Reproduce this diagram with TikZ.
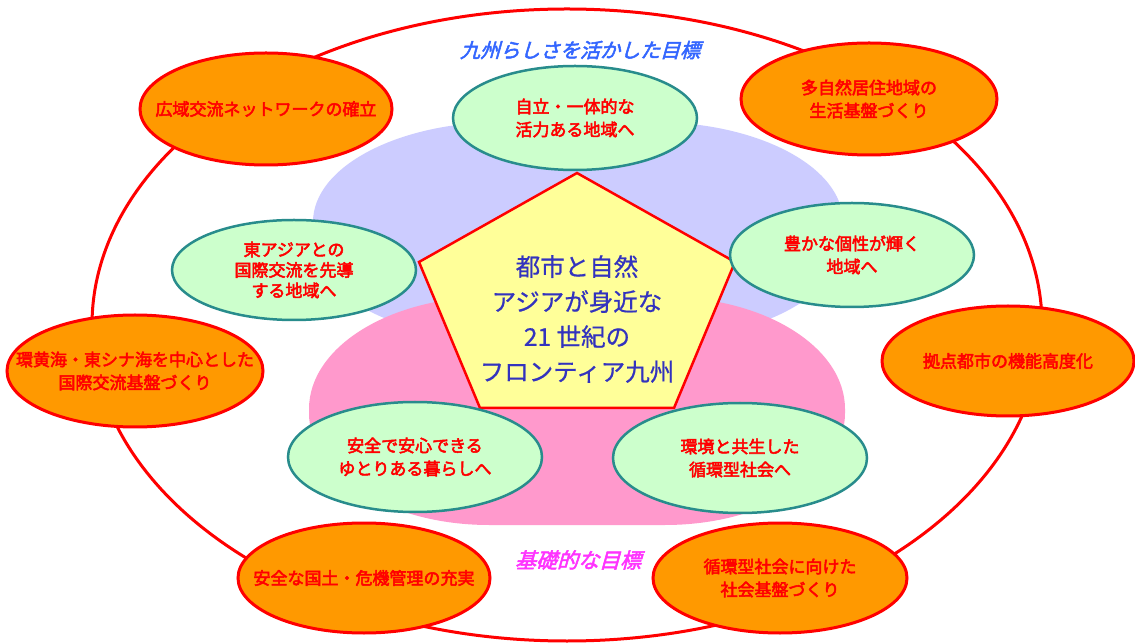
\documentclass[tikz,border=0pt]{standalone}
\usepackage{fontspec}
\usetikzlibrary{shapes.geometric}
\newfontfamily\jp[FakeBold=0.6]{Noto Sans CJK JP}
\newfontfamily\jpb[FakeBold=3]{Noto Sans CJK JP}
\newfontfamily\jpi[FakeBold=2.5,FakeSlant=0.28]{Noto Sans CJK JP}
\definecolor{orangefill}{HTML}{FF9900}
\definecolor{greenfill}{HTML}{CCFFCC}
\definecolor{tealline}{RGB}{40,140,140}
\definecolor{lavfill}{HTML}{CCCCFF}
\definecolor{pinkfill}{HTML}{FF99CC}
\definecolor{pentfill}{HTML}{FFFF99}
\definecolor{centertext}{RGB}{51,51,190}
\definecolor{titleblue}{HTML}{3366FF}
\definecolor{titlemag}{HTML}{FF33FF}
\begin{document}
\begin{tikzpicture}[x=1pt,y=1pt,
  orangebox/.style={ellipse, draw=red, line width=3pt, fill=orangefill, inner sep=0pt},
  greenbox/.style={ellipse, draw=tealline, line width=2.5pt, fill=greenfill, inner sep=0pt},
  redtext/.style={text=red, align=center, inner sep=0pt, font=\jpb\fontsize{17}{23}\selectfont},
  centretext/.style={text=centertext, align=center, inner sep=0pt, font=\jp\fontsize{24.5}{35}\selectfont},
  headtext/.style={inner sep=0pt, font=\jpi\fontsize{20}{24}\selectfont}]
\useasboundingbox (0,0) rectangle (1135,643);
\fill[white] (0,0) rectangle (1135,643);
% outer ring
\draw[red, line width=3pt] (567,318) ellipse[x radius=475, y radius=316];
% lavender area
\fill[lavfill] (503,521) -- (653,521) arc[start angle=90,end angle=0,x radius=190,y radius=100]
  -- (843,403) arc[start angle=0,end angle=-90,x radius=190,y radius=100]
  -- (503,303) arc[start angle=270,end angle=180,x radius=190,y radius=100]
  -- (313,421) arc[start angle=180,end angle=90,x radius=190,y radius=100] -- cycle;
% pink area
\fill[pinkfill] (489,346) -- (665,346) arc[start angle=90,end angle=0,x radius=180,y radius=112]
  -- (845,230) arc[start angle=0,end angle=-90,x radius=180,y radius=112]
  -- (489,118) arc[start angle=270,end angle=180,x radius=180,y radius=112]
  -- (309,234) arc[start angle=180,end angle=90,x radius=180,y radius=112] -- cycle;
% pentagon
\coordinate (p1) at (577,470);
\coordinate (p2) at (735,381);
\coordinate (p3) at (674,235);
\coordinate (p4) at (480,235);
\coordinate (p5) at (419,381);
\draw[red, line width=2.5pt, fill=pentfill, line join=miter] (p1) -- (p2) -- (p3) -- (p4) -- (p5) -- cycle;
\node[centretext] (centre) at (577,324) {都市と自然\\アジアが身近な\\21 世紀の\\フロンティア九州};
% headings
\node[headtext, text=titleblue] (title) at (580,593) {九州らしさを活かした目標};
\node[headtext, text=titlemag, font=\jpi\fontsize{21}{24}\selectfont] (basic) at (578,83) {基礎的な目標};
% green goals
\node[greenbox, minimum width=244pt, minimum height=104pt] (g1) at (575,525) {};
\node[redtext] (g1t) at (g1) {自立・一体的な\\活力ある地域へ};
\node[greenbox, minimum width=244pt, minimum height=100pt] (g2) at (294,373) {};
\node[redtext, font=\jpb\fontsize{17}{20.5}\selectfont] (g2t) at (g2) {東アジアとの\\国際交流を先導\\する地域へ};
\node[greenbox, minimum width=244pt, minimum height=104pt] (g3) at (852,388) {};
\node[redtext] (g3t) at (g3) {豊かな個性が輝く\\地域へ};
\node[greenbox, minimum width=254pt, minimum height=110pt] (g4) at (415,186) {};
\node[redtext] (g4t) at (g4) {安全で安心できる\\ゆとりある暮らしへ};
\node[greenbox, minimum width=254pt, minimum height=110pt] (g5) at (740,185) {};
\node[redtext] (g5t) at (g5) {環境と共生した\\循環型社会へ};
% orange measures
\node[orangebox, minimum width=252pt, minimum height=112pt] (o1) at (266,534) {};
\node[redtext] (o1t) at (o1) {広域交流ネットワークの確立};
\node[orangebox, minimum width=256pt, minimum height=112pt] (o2) at (869,544) {};
\node[redtext] (o2t) at (o2) {多自然居住地域の\\生活基盤づくり};
\node[orangebox, minimum width=256pt, minimum height=112pt] (o3) at (135,272) {};
\node[redtext] (o3t) at (o3) {環黄海・東シナ海を中心とした\\国際交流基盤づくり};
\node[orangebox, minimum width=252pt, minimum height=110pt] (o4) at (1008,282) {};
\node[redtext] (o4t) at (o4) {拠点都市の機能高度化};
\node[orangebox, minimum width=252pt, minimum height=110pt] (o5) at (364,65) {};
\node[redtext] (o5t) at (o5) {安全な国土・危機管理の充実};
\node[orangebox, minimum width=254pt, minimum height=110pt] (o6) at (780,65) {};
\node[redtext] (o6t) at (o6) {循環型社会に向けた\\社会基盤づくり};
\end{tikzpicture}
\end{document}
